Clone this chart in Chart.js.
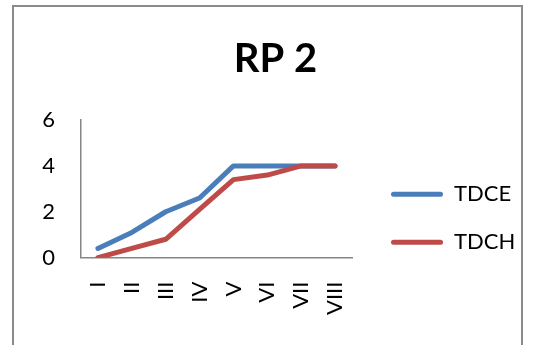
<!DOCTYPE html>
<html>
<head>
<meta charset="utf-8">
<script src="https://cdn.jsdelivr.net/npm/chart.js@4"></script>
<style>
  html, body { margin: 0; padding: 0; background: #fff; }
  #frame {
    position: absolute; left: 12px; top: 5px; width: 507px; height: 360px;
    border: 2px solid #8a8a8a; border-bottom: none;
  }
  #wrap { position: absolute; left: 0; top: 0; width: 539px; height: 345px; }
</style>
</head>
<body>
<div id="frame"></div>
<div id="wrap"><canvas id="chart" width="539" height="345"></canvas></div>
<script>
// Data
const categories = ['I', 'II', 'III', 'IV', 'V', 'VI', 'VII', 'VIII'];
const tdce = [0.4, 1.1, 2, 2.6, 4, 4, 4, 4];
const tdch = [0, 0.4, 0.8, 2.1, 3.4, 3.6, 4, 4];
const yTicks = [0, 2, 4, 6];

const BLUE = '#4a7ebb';
const RED = '#be4b48';
const AXIS = '#868686';
const LEGEND_W = 159;

Chart.defaults.font.family = 'Lato, "Open Sans", sans-serif';
Chart.defaults.color = '#000';

// the layout caps side boxes at a quarter of the width; the legend needs more
const legendWidth = {
    id: 'legendWidth',
    beforeInit(chart) {
        const legend = chart.legend;
        const fit = legend.fit;
        legend.fit = function () {
            fit.call(this);
            this.width = LEGEND_W;
        };
    }
};

new Chart(document.getElementById('chart'), {
    type: 'line',
    data: {
        labels: categories,
        datasets: [
            { label: 'TDCE', data: tdce, borderColor: BLUE, backgroundColor: BLUE, order: 1 },
            { label: 'TDCH', data: tdch, borderColor: RED, backgroundColor: RED, order: 0 }
        ]
    },
    plugins: [legendWidth],
    options: {
        responsive: false,
        animation: false,
        layout: { padding: { left: 27, right: 15, top: 0, bottom: 6 } },
        elements: {
            line: { borderWidth: 5, tension: 0, borderCapStyle: 'round', borderJoinStyle: 'round' },
            point: { radius: 0 }
        },
        scales: {
            x: {
                offset: true,
                grid: { display: false, drawTicks: false },
                border: { display: true, color: AXIS, width: 1.5 },
                ticks: { font: { size: 22 }, minRotation: 90, maxRotation: 90, padding: 24 }
            },
            y: {
                min: yTicks[0],
                max: yTicks[yTicks.length - 1],
                afterFit: s => { s.width = 54; },
                afterBuildTicks: s => { s.ticks = yTicks.map(v => ({ value: v })); },
                grid: { display: false, drawTicks: false },
                border: { display: true, color: AXIS, width: 1.5 },
                ticks: { font: { size: 22 }, padding: 26 }
            },
            // spacer between plot and legend
            gap: {
                type: 'linear', axis: 'y', position: 'right',
                afterFit: s => { s.width = 13; },
                grid: { display: false, drawTicks: false },
                border: { display: false },
                ticks: { display: false }
            }
        },
        plugins: {
            title: {
                display: true,
                text: 'RP 2',
                font: { size: 40, weight: 'bold' },
                padding: { top: 35, bottom: 37 }
            },
            legend: {
                position: 'right',
                align: 'start',
                title: { display: true, text: '', font: { size: 1 }, padding: { top: 156, bottom: 0 } },
                labels: {
                    font: { size: 22 },
                    boxWidth: 52,
                    boxHeight: 5,
                    padding: 26,
                    useBorderRadius: true,
                    borderRadius: 2.5,
                    generateLabels: chart => chart.data.datasets.map((ds, i) => ({
                        text: ds.label,
                        fillStyle: ds.borderColor,
                        strokeStyle: ds.borderColor,
                        fontColor: '#000',
                        lineWidth: 0,
                        borderRadius: 2.5,
                        datasetIndex: i,
                        hidden: false
                    }))
                }
            },
            tooltip: { enabled: false }
        }
    }
});
</script>
</body>
</html>
